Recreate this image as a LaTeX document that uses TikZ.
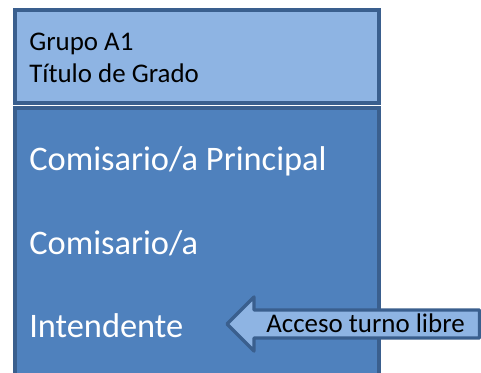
\documentclass[tikz,border=0pt]{standalone}
\usepackage{fontspec}
\setmainfont{Carlito}
\definecolor{lightblue}{HTML}{8EB4E3}
\definecolor{midblue}{HTML}{4F81BD}
\definecolor{edgeblue}{HTML}{3A5F8E}
\begin{document}
\begin{tikzpicture}[x=0.0235cm, y=-0.0235cm,
    box/.style={line width=2.3pt, draw=edgeblue},
    small/.style={anchor=base west, inner sep=0pt, font=\fontsize{18}{22}\selectfont},
    big/.style={anchor=base west, inner sep=0pt, text=white, font=\fontsize{23}{28}\selectfont}]

\useasboundingbox (0,0) rectangle (481,372);
\clip (0,0) rectangle (481,372);

\draw[box, fill=lightblue] (15,10) rectangle (379,103);  % Grupo box
\draw[box, fill=midblue] (15,108) rectangle (379,400);   % Categories box

% Arrow pointing left
\draw[box, line join=round, fill=lightblue] (227,324) -- (254,297) -- (254,310) -- (479.5,310)
    -- (479.5,338) -- (254,338) -- (254,351) -- cycle;

\node[small] (grupo) at (29,50) {Grupo A1};
\node[small] (titulo) at (29,82) {Título de Grado};

\node[big] (principal) at (29,170) {Comisario/a Principal};
\node[big] (comisario) at (29,254) {Comisario/a};
\node[big] (intendente) at (29,337) {Intendente};

\node[small] (acceso) at (266,332) {Acceso turno libre};

\end{tikzpicture}
\end{document}
